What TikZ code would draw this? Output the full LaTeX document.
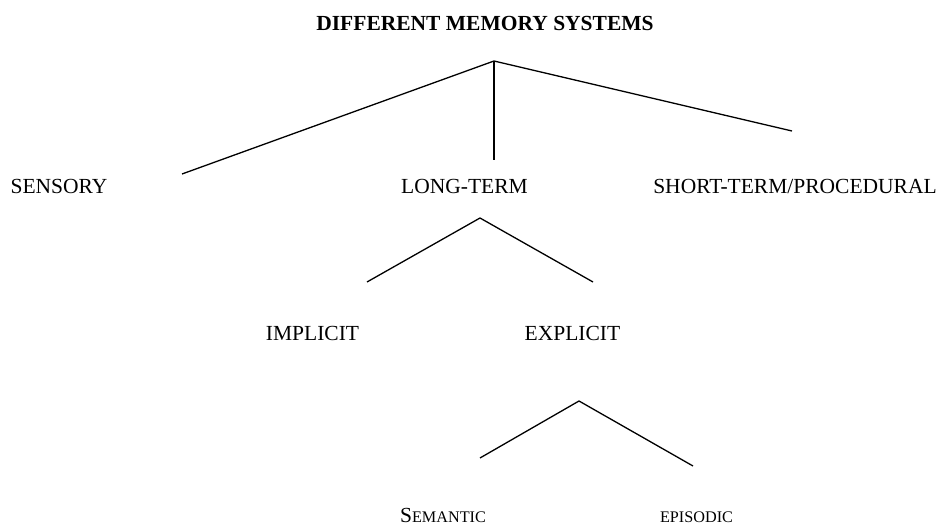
\documentclass[tikz,border=0pt]{standalone}
\usepackage{fontspec}
\setmainfont{Liberation Serif}
\newcommand\smallcap[1]{{\fontsize{8.1}{10}\selectfont #1}}
\begin{document}
\begin{tikzpicture}[x=0.5pt,y=-0.5pt,line width=0.65pt,
    lbl/.style={anchor=base,inner sep=0pt,font=\fontsize{10.75}{13}\selectfont}]
  \useasboundingbox (0,0) rectangle (943,524);
  \node[lbl,font=\fontsize{10.75}{13}\selectfont\bfseries] (title) at (485,31) {DIFFERENT MEMORY SYSTEMS};

  % first level
  \coordinate (top) at (494,61);
  \coordinate (top-l) at (182,174);
  \coordinate (top-m) at (494,160);
  \coordinate (top-r) at (792,131);
  \draw (top-l) -- (top) -- (top-r);
  \draw (top) -- (top-m);
  \node[lbl] (sensory) at (59,193) {SENSORY};
  \node[lbl] (longterm) at (464.5,193) {LONG-TERM};
  \node[lbl] (shortterm) at (795,193) {SHORT-TERM/PROCEDURAL};

  % long-term
  \coordinate (lt) at (480,218);
  \coordinate (lt-l) at (367,282);
  \coordinate (lt-r) at (593,282);
  \draw (lt-l) -- (lt) -- (lt-r);
  \node[lbl] (implicit) at (312.5,340) {IMPLICIT};
  \node[lbl] (explicit) at (572.5,340) {EXPLICIT};

  % explicit
  \coordinate (ex) at (579,401);
  \coordinate (ex-l) at (480,458);
  \coordinate (ex-r) at (693,466);
  \draw (ex-l) -- (ex) -- (ex-r);
  \node[lbl] (semantic) at (443,522) {S\smallcap{EMANTIC}};
  \node[lbl] (episodic) at (696.5,522) {\smallcap{EPISODIC}};
\end{tikzpicture}
\end{document}
